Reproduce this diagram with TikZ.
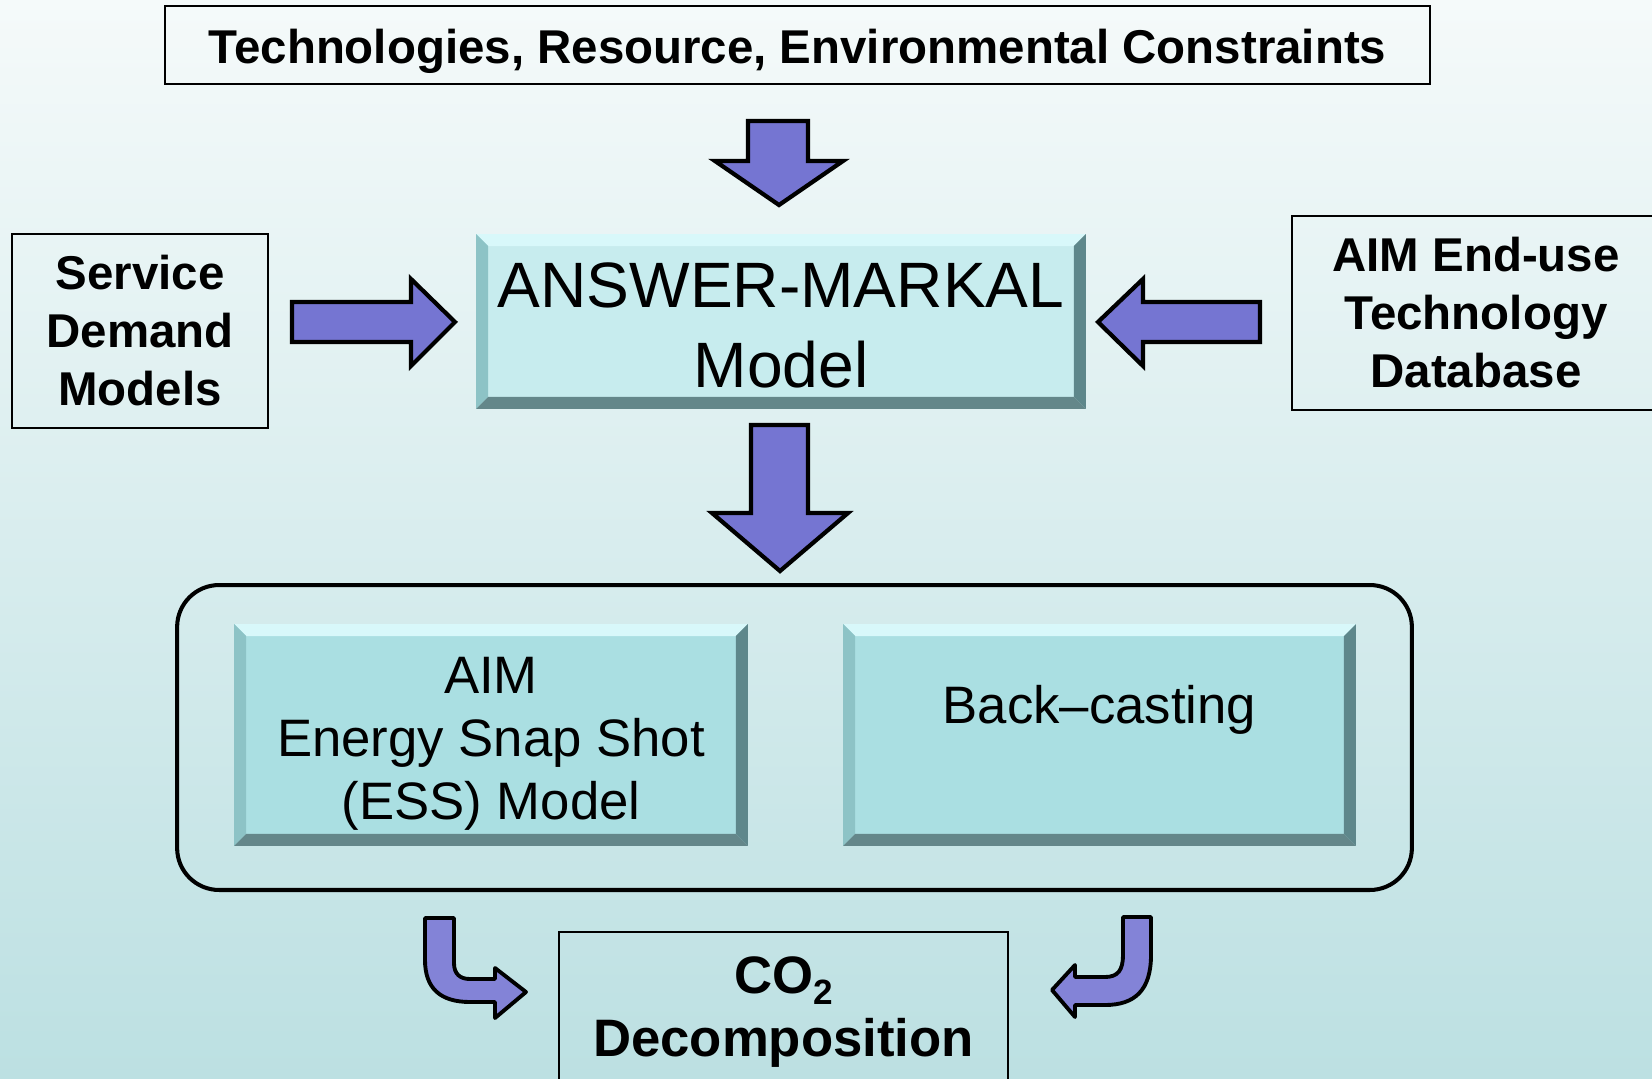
\documentclass[tikz,border=0pt]{standalone}
\usepackage{fontspec}
\setmainfont{Liberation Sans}
\definecolor{bgtop}{HTML}{F5FAFA}
\definecolor{bgbot}{HTML}{BCE0E2}
\definecolor{arrowfill}{HTML}{7575D2}
\definecolor{modelfill}{HTML}{C7ECEE}
\definecolor{essfill}{HTML}{AADFE2}
\definecolor{bevtop}{HTML}{D8F8FA}
\definecolor{bevleft}{HTML}{8DC3C6}
\definecolor{bevright}{HTML}{5E878B}
\definecolor{bevbot}{HTML}{64878A}

\begin{document}
\begin{tikzpicture}[x=0.02cm,y=-0.02cm,
  plainbox/.style={draw,line width=1.1pt,align=center,inner sep=0pt,
    font=\fontsize{27}{33}\selectfont\bfseries},
  bevelbox/.style={fill=#1,align=center,inner sep=0pt,
    path picture={
      \coordinate (nw) at (path picture bounding box.north west);
      \coordinate (ne) at (path picture bounding box.north east);
      \coordinate (sw) at (path picture bounding box.south west);
      \coordinate (se) at (path picture bounding box.south east);
      \fill[bevtop] (nw) -- (ne) -- ([shift={(-0.24cm,-0.24cm)}]ne) -- ([shift={(0.24cm,-0.24cm)}]nw) -- cycle;
      \fill[bevleft] (nw) -- ([shift={(0.24cm,-0.24cm)}]nw) -- ([shift={(0.24cm,0.24cm)}]sw) -- (sw) -- cycle;
      \fill[bevright] (ne) -- ([shift={(-0.24cm,-0.24cm)}]ne) -- ([shift={(-0.24cm,0.24cm)}]se) -- (se) -- cycle;
      \fill[bevbot] (sw) -- ([shift={(0.24cm,0.24cm)}]sw) -- ([shift={(-0.24cm,0.24cm)}]se) -- (se) -- cycle;
    }},
  container/.style={draw,line width=2.3pt,rounded corners=0.84cm},
  blockarrow/.style={draw,line width=2.4pt,fill=arrowfill,line join=miter},
  bentarrow/.style={draw,line width=2.2pt,fill=arrowfill!90!white,line join=round}]
\useasboundingbox (0,0) rectangle (1652,1078);
\clip (0,0) rectangle (1652,1078);
\shade[top color=bgtop,bottom color=bgbot] (0,0) rectangle (1652,1078);

\node[plainbox,minimum width=25.3cm,minimum height=1.56cm] at (797.5,45) (tech) {\rule{0pt}{27pt}Technologies, Resource, Environmental Constraints};
\node[plainbox,minimum width=5.12cm,minimum height=3.88cm] at (140,331) (demand) {Service\\Demand\\Models};
\node[plainbox,minimum width=7.36cm,minimum height=3.88cm] at (1476,313) (db) {AIM End-use\\Technology\\Database};
\node[bevelbox=modelfill,minimum width=12.2cm,minimum height=3.5cm,font=\fontsize{36.5}{46}\selectfont] at (781,321.5) (markal) {\rule{0pt}{30pt}ANSWER-MARKAL\\Model};

\node[container,minimum width=24.7cm,minimum height=6.1cm] at (794.5,737.5) (frame) {};
\node[bevelbox=essfill,minimum width=10.28cm,minimum height=4.44cm,font=\fontsize{30}{35.8}\selectfont] at (491,735) (ess) {\rule{0pt}{31pt}AIM\\Energy Snap Shot\\(ESS) Model};
\node[bevelbox=essfill,minimum width=10.26cm,minimum height=4.44cm,font=\fontsize{30}{35.8}\selectfont] at (1099.5,735) (backcast) {\rule{0pt}{34pt}Back–casting\\\strut};
\node[plainbox,minimum width=8.98cm,minimum height=3.2cm,font=\fontsize{30}{36}\selectfont\bfseries] at (783.5,1012) (co2) {CO\raisebox{-0.4ex}{\fontsize{20}{20}\selectfont 2}\\Decomposition};

% block arrows
\draw[blockarrow] (748,121) -- (808,121) -- (808,161) -- (843,161) -- (779,205) -- (715,161) -- (748,161) -- cycle;
\draw[blockarrow] (292,302) -- (411,302) -- (411,279) -- (455,322) -- (411,366) -- (411,342) -- (292,342) -- cycle;
\draw[blockarrow] (1260,302) -- (1143,302) -- (1143,279) -- (1098,322) -- (1143,366) -- (1143,342) -- (1260,342) -- cycle;
\draw[blockarrow] (751,425) -- (808,425) -- (808,513) -- (848,513) -- (780,571) -- (712,513) -- (751,513) -- cycle;

% bent arrows
\draw[bentarrow] (425,918) -- (454,918) -- (454,963) .. controls (454,974) and (460,979) .. (470,979) -- (495,979) -- (495,968) -- (526,992) -- (495,1018) -- (495,1002) -- (470,1002) .. controls (440,1002) and (425,988) .. (425,960) -- cycle;
\draw[bentarrow] (1123,917) -- (1151,917) -- (1151,955) .. controls (1151,990) and (1135,1005) .. (1105,1005) -- (1075,1005) -- (1075,1017) -- (1052,990) -- (1075,965) -- (1075,977) -- (1105,977) .. controls (1118,977) and (1123,970) .. (1123,955) -- cycle;
\end{tikzpicture}
\end{document}
